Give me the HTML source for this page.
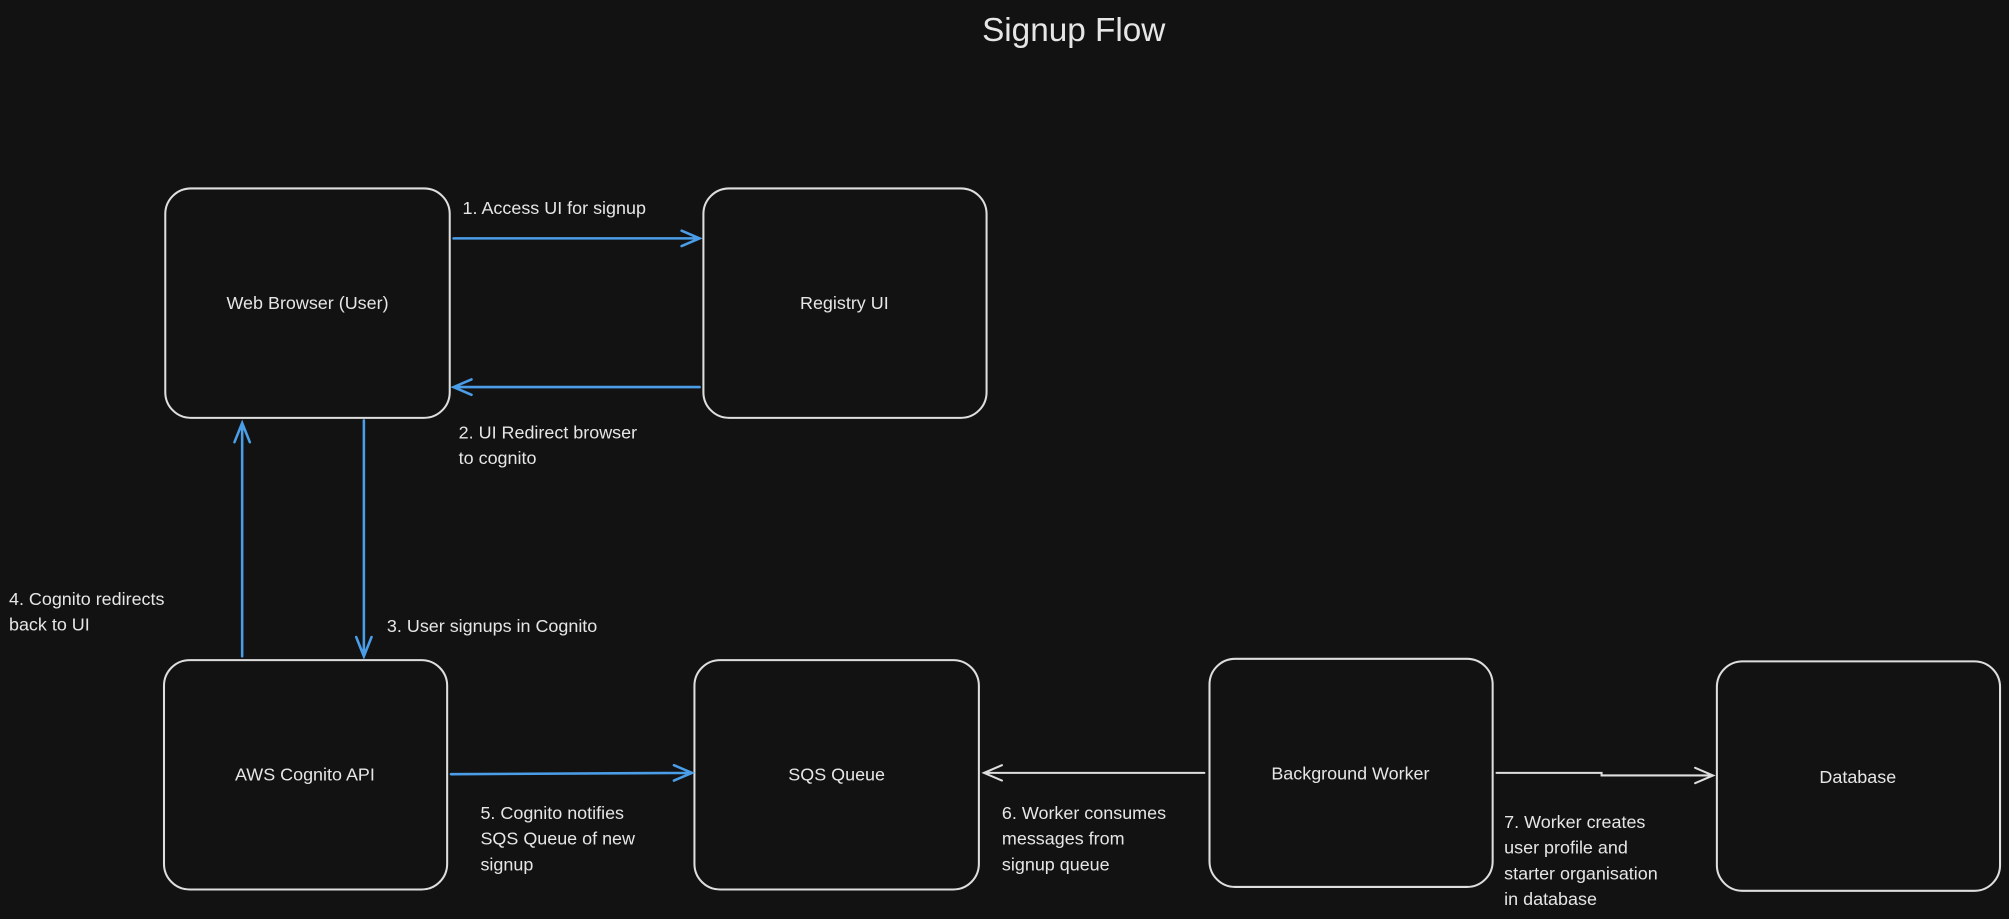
<!DOCTYPE html>
<html><head><meta charset="utf-8"><style>
html,body{margin:0;padding:0;background:#121212;}
svg{display:block}
text{font-family:"Liberation Sans",sans-serif;fill:#e6e6e6;font-size:14px}
</style></head><body>
<svg width="2009" height="919" viewBox="0 0 1568 717" preserveAspectRatio="none" xmlns="http://www.w3.org/2000/svg">
<rect width="1568" height="717" fill="#121212"/>
<text x="838" y="32" text-anchor="middle" style="font-size:26px">Signup Flow</text>
<g fill="none" stroke="#dedede" stroke-width="1.6">
<rect x="129" y="147" width="222" height="179" rx="20"/>
<rect x="549" y="147" width="221" height="179" rx="20"/>
<rect x="128" y="515" width="221" height="179" rx="20"/>
<rect x="542" y="515" width="222" height="179" rx="20"/>
<rect x="944" y="514" width="221" height="178" rx="20"/>
<rect x="1340" y="516" width="221" height="179" rx="20"/>
</g>
<g text-anchor="middle">
<text x="240" y="241">Web Browser (User)</text>
<text x="659" y="241">Registry UI</text>
<text x="238" y="609">AWS Cognito API</text>
<text x="653" y="609">SQS Queue</text>
<text x="1054" y="608">Background Worker</text>
<text x="1450" y="611">Database</text>
</g>
<g fill="none" stroke="#4a9de6" stroke-width="2" stroke-linecap="round">
<path d="M354 186 L546 186 M532 180 L546 186 L532 192"/>
<path d="M546 302 L354 302 M368 296 L354 302 L368 308"/>
<path d="M284 328 L284 512 M278 497 L284 512 L290 497"/>
<path d="M189 512 L189 330 M183 345 L189 330 L195 345"/>
<path d="M352 604 L540 603 M526 597 L540 603 L526 609"/>
</g>
<g fill="none" stroke="#dedede" stroke-width="1.6" stroke-linecap="round">
<path d="M940 603 L768 603 M782 597 L768 603 L782 609"/>
<path d="M1168 603 L1250 603 L1250 605 L1337 605 M1323 599 L1337 605 L1323 611"/>
</g>
<text x="361" y="167">1. Access UI for signup</text>
<text x="358" y="342">2. UI Redirect browser</text>
<text x="358" y="362">to cognito</text>
<text x="302" y="493">3. User signups in Cognito</text>
<text x="7" y="472">4. Cognito redirects</text>
<text x="7" y="492">back to UI</text>
<text x="375" y="639">5. Cognito notifies</text>
<text x="375" y="659">SQS Queue of new</text>
<text x="375" y="679">signup</text>
<text x="782" y="639">6. Worker consumes</text>
<text x="782" y="659">messages from</text>
<text x="782" y="679">signup queue</text>
<text x="1174" y="646">7. Worker creates</text>
<text x="1174" y="666">user profile and</text>
<text x="1174" y="686">starter organisation</text>
<text x="1174" y="706">in database</text>
</svg>
</body></html>
